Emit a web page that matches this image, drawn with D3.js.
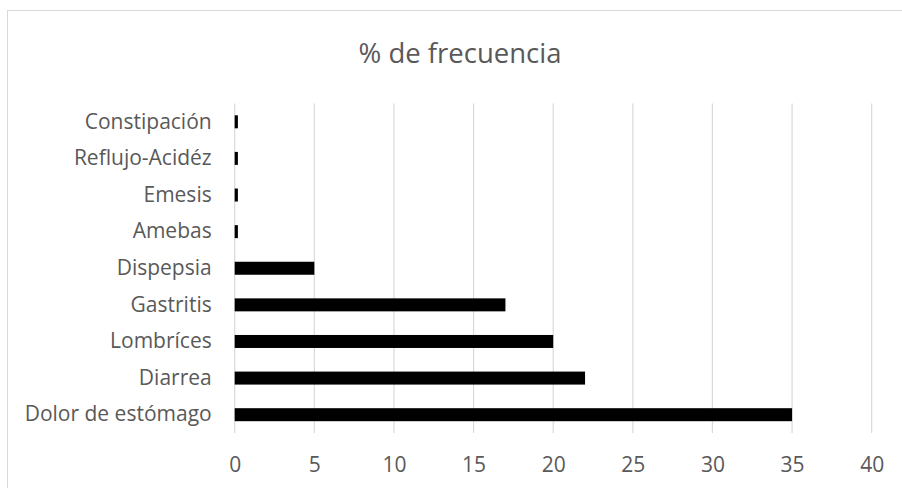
<!DOCTYPE html>
<html>
<head>
<meta charset="utf-8">
<script src="https://cdn.jsdelivr.net/npm/d3@7"></script>
<style>
  body { margin: 0; background: #fff; }
  text { font-family: "Open Sans", sans-serif; fill: #595959; }
</style>
</head>
<body>
<div id="chart"></div>
<script>
// chart data, bottom to top as in the picture
const categories = ['Dolor de estómago', 'Diarrea', 'Lombríces', 'Gastritis', 'Dispepsia',
    'Amebas', 'Emesis', 'Reflujo-Acidéz', 'Constipación'];
const frecuencia = [35, 22, 20, 17, 5, 0.2, 0.2, 0.2, 0.2];
const xTicks = [0, 5, 10, 15, 20, 25, 30, 35, 40];
const title = '% de frecuencia';

const width = 902, height = 488;
const margin = { top: 103.5, right: 30.3, bottom: 55, left: 234.7 };

const svg = d3.select('#chart')
    .append('svg')
    .attr('width', width)
    .attr('height', height);

// outer frame (right and bottom edges fall outside the picture)
svg.append('rect')
    .attr('x', 7.5).attr('y', 10.5)
    .attr('width', width).attr('height', height)
    .attr('fill', 'none')
    .attr('stroke', '#d9d9d9');

svg.append('text')
    .attr('x', 460).attr('y', 63)
    .attr('text-anchor', 'middle')
    .attr('font-size', '27.5px')
    .text(title);

const plotW = width - margin.left - margin.right;
const plotH = height - margin.top - margin.bottom;

const chart = svg.append('g')
    .attr('transform', `translate(${margin.left},${margin.top})`);

const x = d3.scaleLinear().domain([0, 40]).range([0, plotW]);
const y = d3.scaleBand()
    .domain(categories.slice().reverse())
    .range([0, plotH])
    .paddingInner(0.645)
    .paddingOuter(0.3225);

// vertical gridlines
chart.selectAll('.grid')
    .data(xTicks)
    .enter()
    .append('line')
    .attr('class', 'grid')
    .attr('x1', d => x(d)).attr('x2', d => x(d))
    .attr('y1', 0).attr('y2', plotH)
    .attr('stroke', '#d9d9d9')
    .attr('stroke-width', 1.2);

// x axis labels
const xAxis = chart.append('g')
    .attr('transform', `translate(0,${plotH})`)
    .call(d3.axisBottom(x).tickValues(xTicks).tickSize(0).tickPadding(24));
xAxis.select('.domain').remove();
xAxis.selectAll('text')
    .attr('font-size', '21px')
    .attr('font-family', '"Open Sans", sans-serif')
    .attr('fill', '#595959');

// y axis labels
const yAxis = chart.append('g')
    .call(d3.axisLeft(y).tickSize(0).tickPadding(23));
yAxis.select('.domain').remove();
yAxis.selectAll('text')
    .attr('font-size', '21px')
    .attr('font-family', '"Open Sans", sans-serif')
    .attr('fill', '#595959');

// bars
chart.selectAll('.bar')
    .data(categories)
    .enter()
    .append('rect')
    .attr('class', 'bar')
    .attr('x', x(0))
    .attr('y', d => y(d))
    .attr('width', (d, i) => x(frecuencia[i]) - x(0))
    .attr('height', y.bandwidth())
    .attr('fill', '#000');
</script>
</body>
</html>
